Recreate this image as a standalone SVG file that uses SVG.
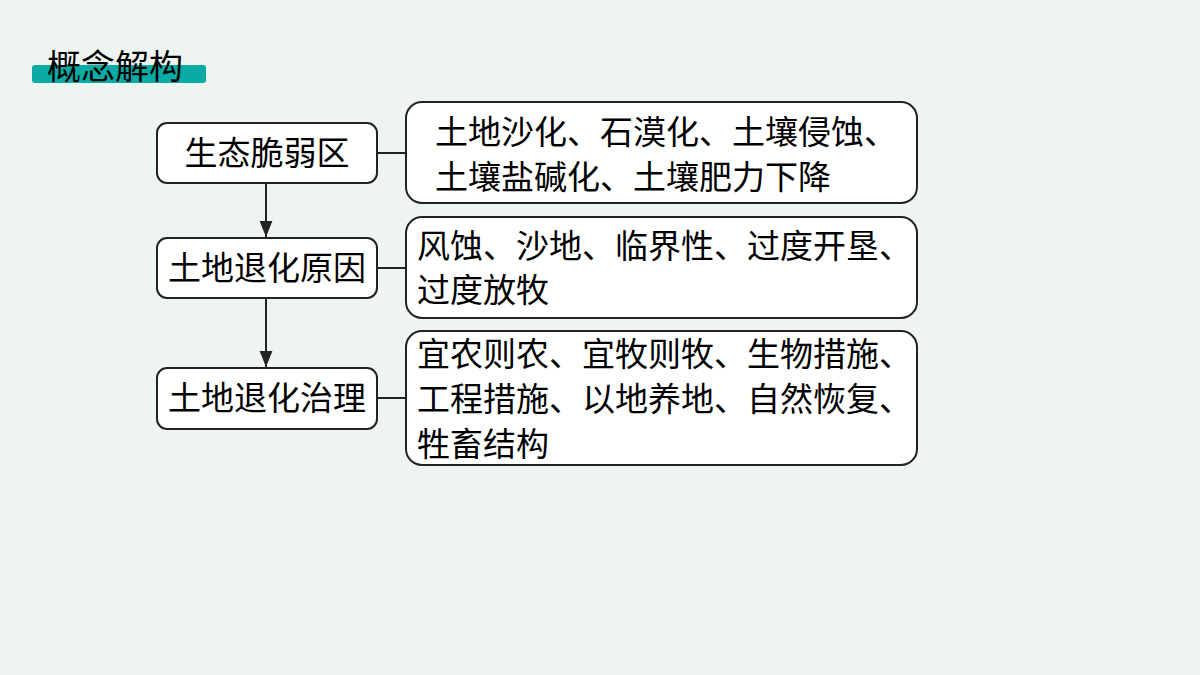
<svg xmlns="http://www.w3.org/2000/svg" width="1200" height="675" viewBox="0 0 1200 675">
<defs>
<style>
text{font-family:"Noto Sans CJK SC","Noto Sans",sans-serif;fill:#000}
.b{fill:#fff;stroke:#222;stroke-width:2}
.t{font-size:33px}
.c{stroke:#222;stroke-width:2;fill:none}
</style>
<marker id="a" viewBox="0 0 10 10" refX="10" refY="5" markerWidth="8" markerHeight="8" orient="auto"><path d="M0,1L10,5L0,9z" fill="#222"/></marker>
</defs>
<rect width="1200" height="675" fill="#eef5f0"/>
<g id="title"><rect x="32" y="65" width="174" height="18" rx="3" fill="#0aaba5"/><text x="47" y="79" font-size="34">概念解构</text></g>
<g id="n1"><rect class="b" x="157" y="123" width="220" height="60" rx="10"/><text class="t" x="267" y="165" text-anchor="middle">生态脆弱区</text></g>
<g id="n2"><rect class="b" x="157" y="238" width="220" height="60" rx="10"/><text class="t" x="267" y="280" text-anchor="middle">土地退化原因</text></g>
<g id="n3"><rect class="b" x="157" y="368" width="220" height="61" rx="10"/><text class="t" x="267" y="410" text-anchor="middle">土地退化治理</text></g>
<g id="r1"><rect class="b" x="406" y="102" width="511" height="101" rx="16"/><text class="t" x="435" y="144">土地沙化、石漠化、土壤侵蚀、</text><text class="t" x="435" y="189">土壤盐碱化、土壤肥力下降</text></g>
<g id="r2"><rect class="b" x="406" y="217" width="511" height="101" rx="16"/><text class="t" x="417" y="258">风蚀、沙地、临界性、过度开垦、</text><text class="t" x="417" y="302">过度放牧</text></g>
<g id="r3"><rect class="b" x="406" y="331" width="511" height="134" rx="16"/><text class="t" x="417" y="366">宜农则农、宜牧则牧、生物措施、</text><text class="t" x="417" y="411">工程措施、以地养地、自然恢复、</text><text class="t" x="417" y="456">牲畜结构</text></g>
<g id="connectors">
<path class="c" d="M377,153H406M377,268H406M377,398H406"/>
<path class="c" d="M266,183V237" marker-end="url(#a)"/>
<path class="c" d="M266,298V367" marker-end="url(#a)"/>
</g>
</svg>
